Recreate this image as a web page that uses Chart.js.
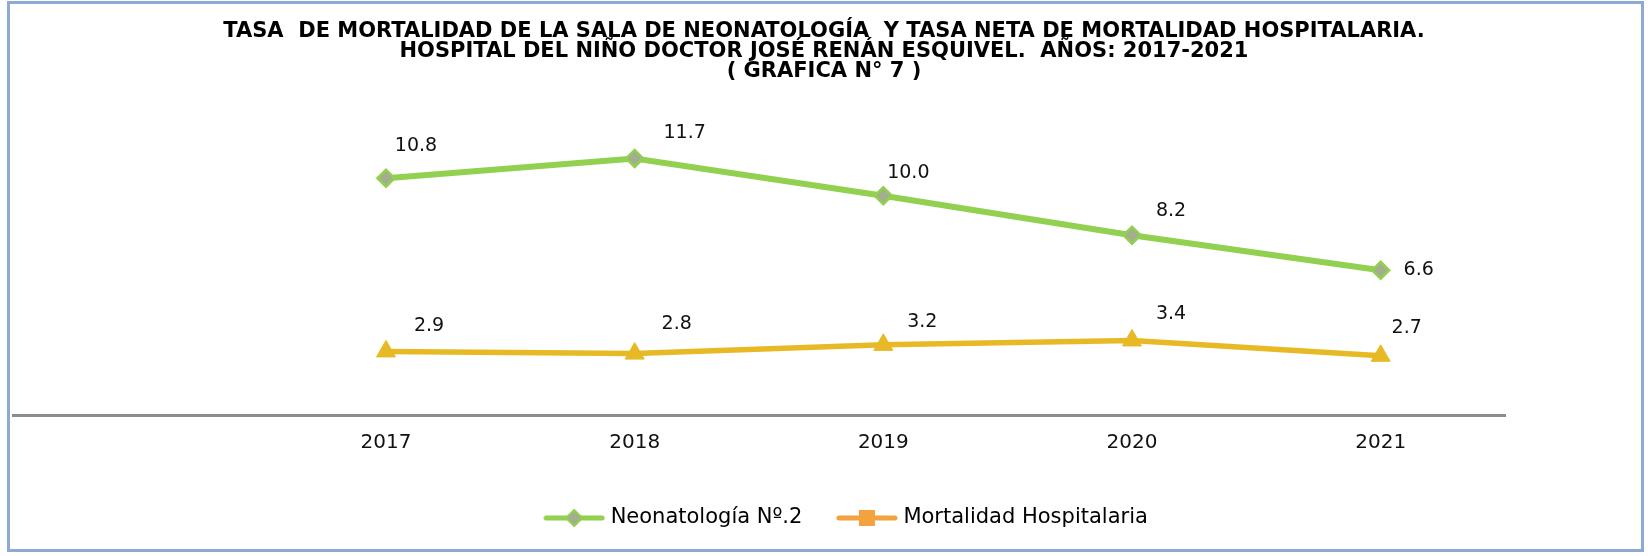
<!DOCTYPE html>
<html>
<head>
<meta charset="utf-8">
<script src="https://cdn.jsdelivr.net/npm/chart.js@4.4.1/dist/chart.umd.min.js"></script>
<style>
    html, body { margin: 0; padding: 0; background: #fff; }
    #wrap { position: relative; width: 1648px; height: 556px; }
    #wrap canvas { position: absolute; left: 0; top: 0; }
    #frame { position: absolute; left: 7px; top: 1px; width: 1637px; height: 551px; border: 3px solid #8eaad4; box-sizing: border-box; pointer-events: none; }
</style>
</head>
<body>
<div id="wrap">
    <canvas id="mortChart" width="1648" height="556"></canvas>
    <div id="frame"></div>
</div>
<script>
// first category is empty in the original sheet, that's why the axis starts far left
const years = ["", "2017", "2018", "2019", "2020", "2021"];
const neonatologia = [null, 10.8, 11.7, 10.0, 8.2, 6.6];
const mortalidad = [null, 2.9, 2.8, 3.2, 3.4, 2.7];
const seriesNames = ["Neonatología Nº.2", "Mortalidad Hospitalaria"];
const titleLines = [
    "TASA  DE MORTALIDAD DE LA SALA DE NEONATOLOGÍA  Y TASA NETA DE MORTALIDAD HOSPITALARIA.",
    "HOSPITAL DEL NIÑO DOCTOR JOSÉ RENÁN ESQUIVEL.  AÑOS: 2017-2021",
    "( GRAFICA N° 7 )"
];

const green = "#92d050";
const gold = "#e6b925";
const orange = "#f2a23f";

// label placement next to each point (dx, dy), hand placed like in the excel
const labelOffsets = [
    [null, [30, -32], [50, -25], [25, -23], [39, -24], [38, 0]],
    [null, [43, -25], [42, -30], [39, -23], [39, -26], [26, -28]]
];

function makeIcon(drawMarker, lineColor, lineWidth) {
    const c = document.createElement("canvas");
    c.width = 62;
    c.height = 22;
    const g = c.getContext("2d");
    g.strokeStyle = lineColor;
    g.lineWidth = lineWidth;
    g.lineCap = "round";
    g.beginPath();
    g.moveTo(3, 11);
    g.lineTo(59, 11);
    g.stroke();
    drawMarker(g);
    return c;
}

const neoIcon = makeIcon(g => {
    g.beginPath();
    g.moveTo(31, 3); g.lineTo(39, 11); g.lineTo(31, 19); g.lineTo(23, 11); g.closePath();
    g.fillStyle = "#a3ae8f";
    g.fill();
    g.strokeStyle = green;
    g.lineWidth = 2;
    g.stroke();
}, green, 5);

const mortIcon = makeIcon(g => {
    g.fillStyle = orange;
    g.fillRect(23, 3, 16, 16);
}, orange, 5);

const valueLabels = {
    id: "valueLabels",
    afterLayout(chart) {
        // legend sits a bit right of centre in the original
        chart.legend.left += 24;
        chart.legend.right += 24;
    },
    afterDatasetsDraw(chart) {
        const ctx = chart.ctx;
        ctx.save();
        ctx.font = "19px 'DejaVu Sans'";
        ctx.fillStyle = "#111";
        ctx.textAlign = "center";
        ctx.textBaseline = "middle";
        chart.data.datasets.forEach((ds, di) => {
            chart.getDatasetMeta(di).data.forEach((pt, i) => {
                const v = ds.data[i];
                if (v === null) return;
                const off = labelOffsets[di][i];
                ctx.fillText(v.toFixed(1), pt.x + off[0], pt.y + off[1]);
            });
        });
        ctx.restore();
    }
};

new Chart(document.getElementById("mortChart"), {
    type: "line",
    data: {
        labels: years,
        datasets: [{
            label: seriesNames[0],
            data: neonatologia,
            borderColor: green,
            borderWidth: 6,
            pointStyle: "rectRot",
            pointRadius: 8.5,
            pointBackgroundColor: "#a3ae8f",
            pointBorderColor: green,
            pointBorderWidth: 2.5,
            tension: 0,
            yAxisID: "y"
        }, {
            label: seriesNames[1],
            data: mortalidad,
            borderColor: gold,
            borderWidth: 5.5,
            pointStyle: "triangle",
            pointRadius: 11,
            pointBackgroundColor: gold,
            pointBorderColor: gold,
            pointBorderWidth: 1,
            tension: 0,
            yAxisID: "y"
        }]
    },
    options: {
        responsive: false,
        animation: false,
        layout: { padding: { top: 0, bottom: 17.5, left: 0, right: 0 } },
        plugins: {
            title: {
                display: true,
                text: titleLines,
                color: "#000",
                font: { family: "'DejaVu Sans'", size: 21, weight: "bold", lineHeight: 20 / 21 },
                padding: { top: 21.5, bottom: 26.5 }
            },
            legend: {
                position: "bottom",
                labels: {
                    usePointStyle: true,
                    pointStyleWidth: 52,
                    padding: 38.5,
                    color: "#111",
                    font: { family: "'DejaVu Sans'", size: 21 },
                    generateLabels: () => [
                        { text: seriesNames[0], pointStyle: neoIcon, fillStyle: green, strokeStyle: green, lineWidth: 0, hidden: false, datasetIndex: 0 },
                        { text: seriesNames[1], pointStyle: mortIcon, fillStyle: orange, strokeStyle: orange, lineWidth: 0, hidden: false, datasetIndex: 1 }
                    ]
                }
            },
            tooltip: { enabled: false }
        },
        scales: {
            x: {
                offset: true,
                grid: { display: false },
                border: { display: true, color: "#8c8c8c", width: 3 },
                ticks: { color: "#111", padding: 8, font: { family: "'DejaVu Sans'", size: 20 } },
                afterFit: s => { s.height = 54; }
            },
            y: {
                min: 0,
                max: 14,
                grid: { display: false },
                border: { display: false },
                ticks: { display: false },
                afterFit: s => { s.width = 13; }
            },
            y2: {
                position: "right",
                min: 0,
                max: 14,
                grid: { display: false },
                border: { display: false },
                ticks: { display: false },
                afterFit: s => { s.width = 143; }
            }
        }
    },
    plugins: [valueLabels]
});
</script>
</body>
</html>
